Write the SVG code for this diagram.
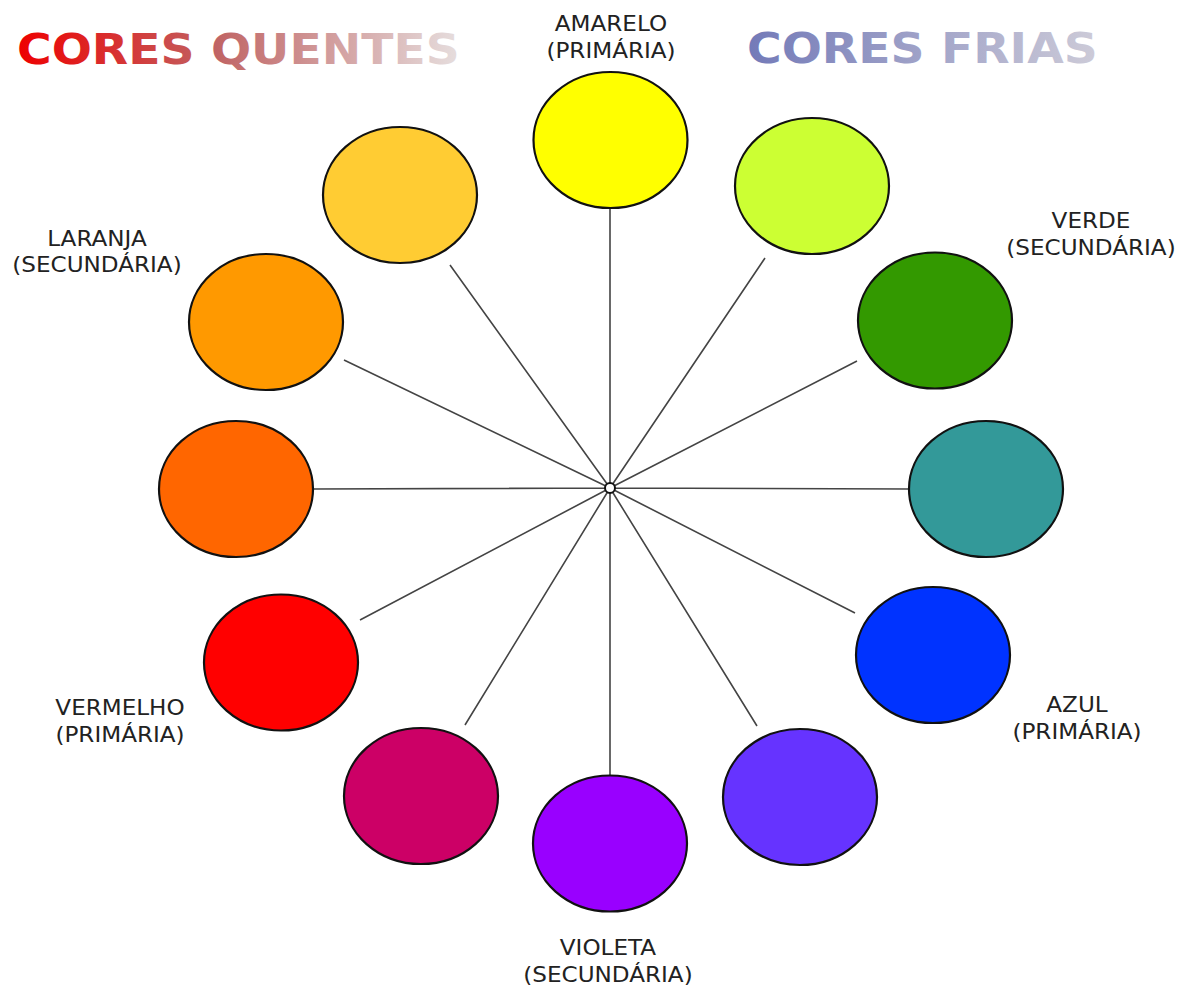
<svg xmlns="http://www.w3.org/2000/svg" width="1192" height="995" viewBox="0 0 1192 995">
<defs>
<linearGradient id="gWarm" x1="0" y1="0" x2="1" y2="0">
<stop offset="0" stop-color="#ee0000"/>
<stop offset="0.45" stop-color="#c06464"/>
<stop offset="1" stop-color="#e6dede"/>
</linearGradient>
<linearGradient id="gCold" x1="0" y1="0" x2="1" y2="0">
<stop offset="0" stop-color="#737ab8"/>
<stop offset="1" stop-color="#cdcbd8"/>
</linearGradient>
</defs>
<style>
.c{stroke:#111;stroke-width:2.2}
.ln{stroke:#444;stroke-width:1.6;fill:none}
.lb{font-family:"DejaVu Sans",sans-serif;font-size:21px;fill:#222;text-anchor:middle}
.tt{font-family:"DejaVu Sans",sans-serif;font-size:42px;font-weight:bold}
</style>
<rect width="1192" height="995" fill="#fff"/>
<g id="title-warm"><text class="tt" fill="url(#gWarm)" transform="translate(17,64) scale(1.125,1)">CORES QUENTES</text></g>
<g id="title-cold"><text class="tt" fill="url(#gCold)" transform="translate(747,63) scale(1.125,1)">CORES FRIAS</text></g>
<g id="connectors">
<path class="ln" d="M610,488L610,209M610,488L765,258M610,488L857,361M610,488L909,489M610,488L855,613M610,488L757,726M610,488L610,775M610,488L465,725M610,488L360,620M610,488L313,489M610,488L344,360M610,488L450,265"/>
</g>
<g id="center"><circle cx="610" cy="488" r="5" fill="#fff" stroke="#111" stroke-width="2"/></g>
<g id="amarelo"><ellipse class="c" cx="610.5" cy="140" rx="77" ry="68" fill="#ffff00"/>
<text class="lb" transform="translate(611,31) scale(1.1,1)">AMARELO</text>
<text class="lb" transform="translate(611,58) scale(1.1,1)">(PRIMÁRIA)</text></g>
<g id="amarelo-esverdeado"><ellipse class="c" cx="812" cy="186" rx="77" ry="68" fill="#ccff33"/></g>
<g id="verde"><ellipse class="c" cx="935" cy="320.5" rx="77" ry="68" fill="#339900"/>
<text class="lb" transform="translate(1091,228) scale(1.1,1)">VERDE</text>
<text class="lb" transform="translate(1091,255) scale(1.1,1)">(SECUNDÁRIA)</text></g>
<g id="azul-esverdeado"><ellipse class="c" cx="986" cy="489" rx="77" ry="68" fill="#339999"/></g>
<g id="azul"><ellipse class="c" cx="933" cy="655" rx="77" ry="68" fill="#0033ff"/>
<text class="lb" transform="translate(1077,712) scale(1.1,1)">AZUL</text>
<text class="lb" transform="translate(1077,739) scale(1.1,1)">(PRIMÁRIA)</text></g>
<g id="azul-violeta"><ellipse class="c" cx="800" cy="797" rx="77" ry="68" fill="#6633ff"/></g>
<g id="violeta"><ellipse class="c" cx="610" cy="843.5" rx="77" ry="68" fill="#9900ff"/>
<text class="lb" transform="translate(608,955) scale(1.1,1)">VIOLETA</text>
<text class="lb" transform="translate(608,982) scale(1.1,1)">(SECUNDÁRIA)</text></g>
<g id="magenta"><ellipse class="c" cx="421" cy="796" rx="77" ry="68" fill="#cc0066"/></g>
<g id="vermelho"><ellipse class="c" cx="281" cy="662.5" rx="77" ry="68" fill="#ff0000"/>
<text class="lb" transform="translate(120,715) scale(1.1,1)">VERMELHO</text>
<text class="lb" transform="translate(120,742) scale(1.1,1)">(PRIMÁRIA)</text></g>
<g id="vermelho-alaranjado"><ellipse class="c" cx="236" cy="489" rx="77" ry="68" fill="#ff6600"/></g>
<g id="laranja"><ellipse class="c" cx="266" cy="322" rx="77" ry="68" fill="#ff9900"/>
<text class="lb" transform="translate(97,246) scale(1.1,1)">LARANJA</text>
<text class="lb" transform="translate(97,272) scale(1.1,1)">(SECUNDÁRIA)</text></g>
<g id="amarelo-alaranjado"><ellipse class="c" cx="400" cy="195" rx="77" ry="68" fill="#ffcc33"/></g>
</svg>
